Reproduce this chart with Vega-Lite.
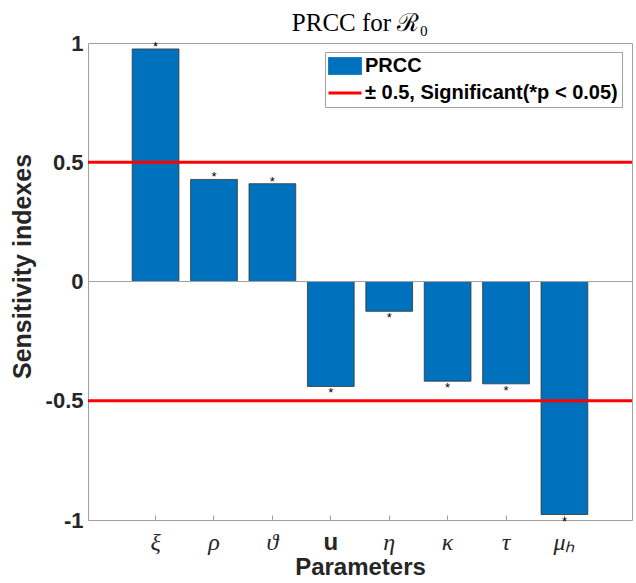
{
  "$schema": "https://vega.github.io/schema/vega-lite/v6.json",
  "width": 544,
  "height": 477,
  "autosize": {"type": "none"},
  "padding": {"left": 88, "top": 43, "right": 4, "bottom": 63},
  "background": "white",
  "config": {"view": {"stroke": "#a0a0a0", "strokeWidth": 1}},
  "title": {"text": "PRCC for ℛ₀", "font": "Liberation Serif", "fontSize": 25, "fontWeight": "normal", "color": "black", "offset": -4, "anchor": "middle"},
  "datasets": {
    "prcc": [
      {"param": "ξ", "value": 0.975, "sig": "*"},
      {"param": "ρ", "value": 0.428, "sig": "*"},
      {"param": "ϑ", "value": 0.41, "sig": "*"},
      {"param": "u", "value": -0.44, "sig": "*"},
      {"param": "η", "value": -0.125, "sig": "*"},
      {"param": "κ", "value": -0.418, "sig": "*"},
      {"param": "τ", "value": -0.429, "sig": "*"},
      {"param": "μₕ", "value": -0.977, "sig": "*"}
    ],
    "thresholds": [{"level": 0.5}, {"level": -0.5}],
    "baseline": [{"level": 0}]
  },
  "layer": [
    {
      "data": {"name": "prcc"},
      "mark": {"type": "bar", "stroke": "#333333", "strokeWidth": 0.8},
      "encoding": {
        "x": {
          "field": "param", "type": "nominal", "sort": null,
          "scale": {"paddingInner": 0.2, "paddingOuter": 0.757},
          "axis": {
            "orient": "bottom", "title": "Parameters", "domain": false,
            "ticks": true, "tickSize": -5, "tickColor": "#a0a0a0",
            "labelAngle": 0, "labelPadding": 15,
            "labelFont": {"condition": {"test": "datum.value == 'u'", "value": "Liberation Sans"}, "value": "Liberation Serif"},
            "labelFontStyle": {"condition": {"test": "datum.value == 'u'", "value": "normal"}, "value": "italic"},
            "labelFontWeight": {"condition": {"test": "datum.value == 'u'", "value": "bold"}, "value": "normal"},
            "labelFontSize": 24, "labelColor": "#262626",
            "titleFont": "Liberation Sans", "titleFontSize": 24, "titleFontWeight": "bold", "titleColor": "#262626", "titlePadding": 1
          }
        },
        "y": {
          "field": "value", "type": "quantitative",
          "scale": {"domain": [-1, 1], "nice": false},
          "axis": {
            "title": "Sensitivity indexes", "values": [-1, -0.5, 0, 0.5, 1],
            "labelExpr": "toString(datum.value)", "grid": false, "ticks": false, "domain": false,
            "labelFont": "Liberation Sans", "labelFontSize": 22, "labelFontWeight": "bold", "labelColor": "#262626", "labelPadding": 5,
            "titleFont": "Liberation Sans", "titleFontSize": 25, "titleFontWeight": "bold", "titleColor": "#262626", "titlePadding": 10, "titleY": 223
          }
        },
        "color": {
          "datum": "PRCC", "type": "nominal",
          "scale": {"domain": ["PRCC", "± 0.5, Significant(*p < 0.05)"], "range": ["#0072BD", "#ff0000"]},
          "legend": {
            "title": null, "orient": "none", "legendX": 237, "legendY": 9,
            "fillColor": "white", "strokeColor": "#a0a0a0", "padding": 4,
            "labelFont": "Liberation Sans", "labelFontSize": 20, "labelFontWeight": "bold", "labelColor": "black", "labelLimit": 400,
            "labelOffset": 16, "rowPadding": 6, "symbolSize": 289,
            "encode": {
              "symbols": {
                "update": {
                  "shape": {"signal": "datum.value == 'PRCC' ? 'M-1.235,-1H2.647V1H-1.235Z' : 'M-1.235,0H2.647'"},
                  "fill": {"signal": "datum.value == 'PRCC' ? '#0072BD' : 'transparent'"},
                  "stroke": {"signal": "datum.value == 'PRCC' ? '#333333' : '#ff0000'"},
                  "strokeWidth": {"signal": "datum.value == 'PRCC' ? 0.8 : 3"}
                }
              }
            }
          }
        }
      }
    },
    {
      "data": {"name": "baseline"},
      "mark": {"type": "rule", "color": "#a0a0a0", "strokeWidth": 1},
      "encoding": {"y": {"field": "level", "type": "quantitative"}}
    },
    {
      "data": {"name": "prcc"},
      "transform": [{"filter": "datum.value > 0"}],
      "mark": {"type": "text", "font": "Liberation Sans", "fontSize": 13, "baseline": "middle", "dy": -2, "color": "black"},
      "encoding": {
        "x": {"field": "param", "type": "nominal", "sort": null},
        "y": {"field": "value", "type": "quantitative"},
        "text": {"field": "sig"}
      }
    },
    {
      "data": {"name": "prcc"},
      "transform": [{"filter": "datum.value < 0"}],
      "mark": {"type": "text", "font": "Liberation Sans", "fontSize": 13, "baseline": "middle", "dy": 7, "color": "black"},
      "encoding": {
        "x": {"field": "param", "type": "nominal", "sort": null},
        "y": {"field": "value", "type": "quantitative"},
        "text": {"field": "sig"}
      }
    },
    {
      "data": {"name": "thresholds"},
      "mark": {"type": "rule", "strokeWidth": 3},
      "encoding": {
        "y": {"field": "level", "type": "quantitative"},
        "color": {
          "datum": "± 0.5, Significant(*p < 0.05)", "type": "nominal",
          "legend": {
            "title": null, "orient": "none", "legendX": 237, "legendY": 9,
            "fillColor": "white", "strokeColor": "#a0a0a0", "padding": 4,
            "labelFont": "Liberation Sans", "labelFontSize": 20, "labelFontWeight": "bold", "labelColor": "black", "labelLimit": 400,
            "labelOffset": 16, "rowPadding": 6, "symbolSize": 289,
            "encode": {
              "symbols": {
                "update": {
                  "shape": {"signal": "datum.value == 'PRCC' ? 'M-1.235,-1H2.647V1H-1.235Z' : 'M-1.235,0H2.647'"},
                  "fill": {"signal": "datum.value == 'PRCC' ? '#0072BD' : 'transparent'"},
                  "stroke": {"signal": "datum.value == 'PRCC' ? '#333333' : '#ff0000'"},
                  "strokeWidth": {"signal": "datum.value == 'PRCC' ? 0.8 : 3"}
                }
              }
            }
          }
        }
      }
    }
  ]
}
